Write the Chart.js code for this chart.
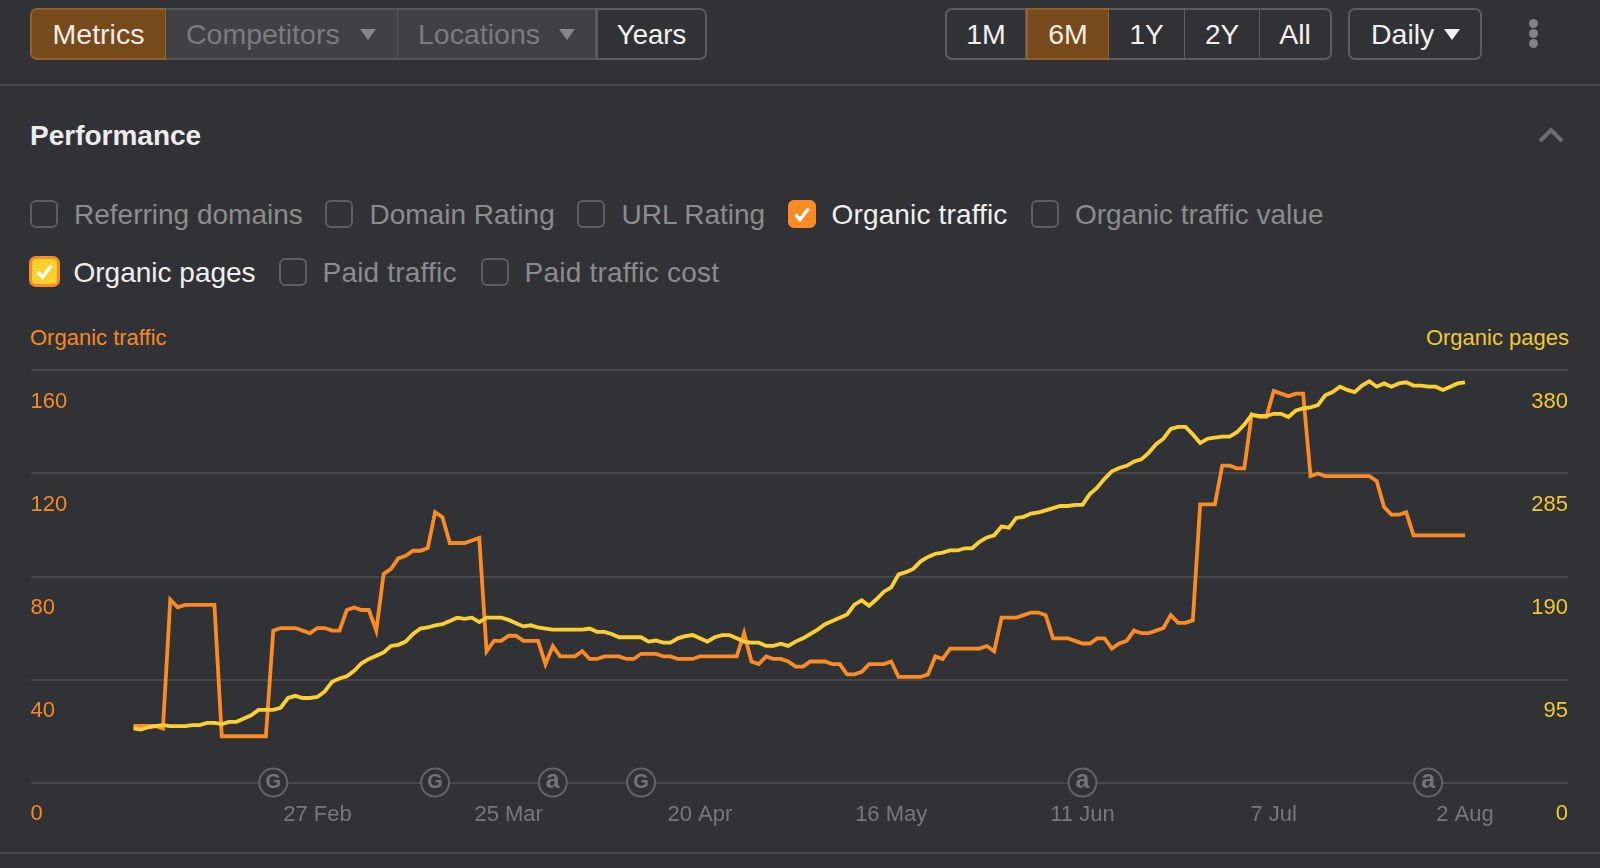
<!DOCTYPE html>
<html><head><meta charset="utf-8">
<style>
html,body{margin:0;padding:0;background:#313235;width:1600px;height:868px;overflow:hidden;font-family:"Liberation Sans",Arial,sans-serif}
#c{position:absolute;left:0;top:0}
.a{position:absolute;white-space:nowrap}
.btn{position:absolute;top:8px;height:52px;box-sizing:border-box;border:2px solid #5c5d60;display:flex;align-items:center;justify-content:center;font-size:28.5px;color:#f1f1f1;background:#313235}
.dim{background:#404144;color:#7b7c7e;border-color:#56575a;justify-content:flex-start}
.on{background:#764a1b;border-color:#96602a;color:#f1ece6}
.cb{position:absolute;box-sizing:border-box;width:28px;height:28px;border:2px solid #5c5d60;border-radius:6px}
.lb{position:absolute;font-size:28px;line-height:34px;color:#8b8c8e;white-space:nowrap}
.tri{position:absolute;width:0;height:0;border-left:8px solid transparent;border-right:8px solid transparent;border-top:11px solid #85868a}
.hr{position:absolute;left:0;width:1600px;height:2px;background:#47484b}
.dot{position:absolute;left:1528.5px;width:9px;height:9px;border-radius:5px;background:#828386}
</style></head><body>
<div class="btn on" style="left:30px;width:137px;border-radius:7px 0 0 7px">Metrics</div>
<div class="btn dim" style="left:166px;width:233px;padding-left:20px;border-left:none">Competitors</div><div class="tri" style="left:360px;top:29px"></div>
<div class="btn dim" style="left:398px;width:199px;padding-left:20px;border-left:none">Locations</div><div class="tri" style="left:559px;top:29px"></div>
<div class="btn" style="left:596px;width:111px;border-radius:0 7px 7px 0;font-size:27.5px;padding-top:1px">Years</div>

<div class="btn" style="left:945px;width:82px;border-radius:7px 0 0 7px">1M</div>
<div class="btn on" style="left:1026px;width:84px">6M</div>
<div class="btn" style="left:1109px;width:77px;border-left:none;font-size:28px;padding-top:1px">1Y</div>
<div class="btn" style="left:1185px;width:76px;border-left:none;font-size:28px;padding-top:1px">2Y</div>
<div class="btn" style="left:1260px;width:72px;border-left:none;border-radius:0 7px 7px 0">All</div>
<div class="btn" style="left:1348px;width:134px;border-radius:7px;justify-content:flex-start;padding-left:21px">Daily</div><div class="tri" style="left:1444px;top:29px;border-top-color:#f1f1f1"></div>
<div class="dot" style="top:19px"></div><div class="dot" style="top:29px"></div><div class="dot" style="top:39px"></div>
<div class="hr" style="top:84px"></div>

<div class="a" style="left:30px;top:118px;font-size:28px;line-height:36px;font-weight:bold;color:#ececec">Performance</div>
<svg class="a" style="left:1538px;top:125px" width="26" height="20"><polyline points="2,16 13,5 24,16" fill="none" stroke="#6d6e71" stroke-width="4"/></svg>

<div class="cb" style="left:30px;top:200px"></div><div class="lb" style="left:74px;top:198px">Referring domains</div>
<div class="cb" style="left:325px;top:200px"></div><div class="lb" style="left:369.5px;top:198px">Domain Rating</div>
<div class="cb" style="left:577px;top:200px"></div><div class="lb" style="left:621.5px;top:198px">URL Rating</div>
<div class="cb" style="left:788px;top:200px;background:#fc8b25;border-color:#fc8b25"><svg width="24" height="24" style="position:absolute;left:0;top:0"><polyline points="5.5,12.5 10,17.5 18.5,6.5" fill="none" stroke="#fff" stroke-width="3.4"/></svg></div><div class="lb" style="left:831.5px;top:198px;color:#efefef;letter-spacing:.15px">Organic traffic</div>
<div class="cb" style="left:1031px;top:200px"></div><div class="lb" style="left:1075px;top:198px">Organic traffic value</div>

<div class="cb" style="left:28.5px;top:256px;width:31px;height:31px;background:#fdd031;border:3px solid #fc8b25;border-radius:7px"><svg width="25" height="25" style="position:absolute;left:0;top:0"><polyline points="6,13 10.5,18 19,7" fill="none" stroke="#fff" stroke-width="3.4"/></svg></div><div class="lb" style="left:73.5px;top:256px;color:#efefef">Organic pages</div>
<div class="cb" style="left:279px;top:258px"></div><div class="lb" style="left:322.5px;top:256px;letter-spacing:.2px">Paid traffic</div>
<div class="cb" style="left:481px;top:258px"></div><div class="lb" style="left:524.5px;top:256px;letter-spacing:.22px">Paid traffic cost</div>

<div class="a" style="left:30px;top:323.5px;font-size:22px;line-height:27px;color:#f5892a">Organic traffic</div>
<div class="a" style="right:31px;top:323.5px;font-size:22px;line-height:27px;color:#f0c935">Organic pages</div>
<div class="hr" style="top:852px"></div>

<canvas id="c" width="1600" height="868" style="width:1600px;height:868px"></canvas>

<script src="https://cdn.jsdelivr.net/npm/chart.js@4/dist/chart.umd.min.js"></script>
<script>
// one value per day, 2 Feb to 2 Aug (day index 0 to 181)
const organicTraffic = [
 22,22,22,22,21,71,68,69,69,69,
 69,69,18,18,18,18,18,18,18,59,
 60,60,60,59,58,60,60,59,59,67,
 68,67,67,59,81,83,87,88,90,90,
 91,105,103,93,93,93,94,95,51,55,
 55,57,57,55,55,55,46,53,49,49,
 49,51,48,48,49,49,49,48,48,50,
 50,50,49,49,48,48,48,49,49,49,
 49,49,49,58,47,46,49,48,48,47,
 45,45,47,47,47,46,46,42,42,43,
 46,46,46,47,41,41,41,41,42,49,
 48,52,52,52,52,52,53,51,64,64,
 64,65,66,66,65,56,56,56,55,54,
 54,56,56,52,54,55,59,58,58,59,
 60,65,62,62,63,108,108,108,123,123,
 122,122,143,142,142,152,151,150,151,151,
 119,120,119,119,119,119,119,119,119,117,
 107,104,104,105,96,96,96,96,96,96,96,96];
const organicPages = [
 50,49,51,52,53,52,52,52,53,53,
 55,55,54,56,56,59,62,67,67,67,
 69,78,80,78,78,79,84,93,96,98,
 103,110,114,117,120,126,127,130,137,142,
 143,145,146,149,152,151,152,148,152,152,
 152,150,147,144,145,143,142,141,141,141,
 141,141,142,139,139,137,134,134,134,134,
 130,131,129,129,133,135,136,133,130,134,
 136,136,133,130,129,129,126,126,128,126,
 130,133,137,141,146,149,152,155,164,168,
 163,169,176,180,192,194,197,204,208,211,
 212,214,214,216,216,222,226,228,236,235,
 244,245,248,249,251,253,255,255,256,256,
 266,272,280,287,290,292,296,298,304,312,
 317,326,328,328,321,313,317,318,319,319,
 323,330,339,338,338,340,340,337,343,345,
 346,348,357,360,365,362,360,366,370,365,
 368,365,368,369,366,366,365,365,362,365,368,369];
const tickDays   = [25,51,77,103,129,155,181];
const tickLabels = ['27 Feb','25 Mar','20 Apr','16 May','11 Jun','7 Jul','2 Aug'];
const eventDays   = [19,41,57,69,129,176];
const eventGlyphs = ['G','G','a','G','a','a'];
const trafficTicks = [0,40,80,120,160];
const pagesTicks   = [0,95,190,285,380];

const FONT = '"Liberation Sans", Arial, sans-serif';
const BG = '#313235', ORANGE = '#fc8b25', YELLOW = '#fdd031', GRID = '#47484b';
const pts = a => a.map((v,i)=>({x:i,y:v}));
const zeroWidth = s => { s.width = 0; };

const eventGlyphPlugin = {
  id:'eventGlyphs',
  afterDatasetsDraw(chart){
    const meta = chart.getDatasetMeta(2), ctx = chart.ctx;
    ctx.save();
    ctx.fillStyle = '#737477';
    ctx.textAlign = 'center'; ctx.textBaseline = 'middle';
    meta.data.forEach((p,i)=>{
      const isA = eventGlyphs[i]==='a';
      ctx.font = 'bold ' + (isA?25:20) + 'px ' + FONT;
      ctx.fillText(eventGlyphs[i], p.x, p.y - (isA?1:0));
    });
    ctx.restore();
  }
};

new Chart(document.getElementById('c'), {
  type:'line',
  data:{datasets:[
    {label:'Organic traffic', data:pts(organicTraffic), yAxisID:'y', borderColor:ORANGE, borderWidth:3.8, pointRadius:0, tension:0, borderJoinStyle:'miter', borderCapStyle:'butt', order:2},
    {label:'Organic pages', data:pts(organicPages), yAxisID:'y2', borderColor:YELLOW, borderWidth:3.8, pointRadius:0, tension:0, borderJoinStyle:'miter', borderCapStyle:'butt', order:1},
    {label:'Events', data:eventDays.map(d=>({x:d,y:0})), yAxisID:'y', showLine:false, pointRadius:14, pointBorderWidth:2, pointBorderColor:'#636467', pointBackgroundColor:BG, clip:false, order:0}
  ]},
  plugins:[eventGlyphPlugin],
  options:{
    responsive:false, animation:false, events:[],
    layout:{padding:{left:30.5,right:32,top:370.4,bottom:0}},
    plugins:{legend:{display:false},tooltip:{enabled:false},title:{display:false}},
    scales:{
      x:{type:'linear',min:-14,max:195,
        afterBuildTicks:s=>{s.ticks=tickDays.map(v=>({value:v}));},
        afterFit:s=>{s.height=85.4;},
        grid:{display:false},border:{display:false},
        ticks:{autoSkip:false,maxRotation:0,padding:11,color:'#77787b',font:{family:FONT,size:22},
          callback:v=>tickLabels[tickDays.indexOf(v)]}},
      y:{position:'left',min:0,max:160,
        afterBuildTicks:s=>{s.ticks=trafficTicks.map(v=>({value:v}));},
        afterFit:zeroWidth,
        grid:{color:GRID,lineWidth:2,drawTicks:false},border:{display:false},
        ticks:{mirror:true,padding:0,labelOffset:31.6,color:'#f5892a',font:{family:FONT,size:22}}},
      y2:{position:'right',min:0,max:380,
        afterBuildTicks:s=>{s.ticks=pagesTicks.map(v=>({value:v}));},
        afterFit:zeroWidth,
        grid:{display:false},border:{display:false},
        ticks:{mirror:true,padding:0,labelOffset:31.6,color:'#f0c935',font:{family:FONT,size:22}}}
    }
  }
});
</script>
</body></html>
